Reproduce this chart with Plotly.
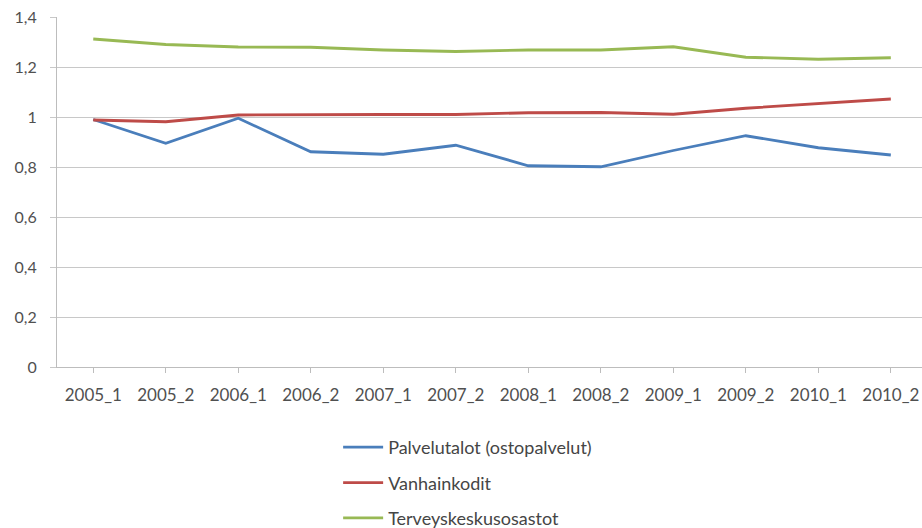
import plotly.graph_objects as go

# Half-year periods on the category axis
periods = ["2005_1", "2005_2", "2006_1", "2006_2", "2007_1", "2007_2",
           "2008_1", "2008_2", "2009_1", "2009_2", "2010_1", "2010_2"]

palvelutalot = [0.99, 0.895, 0.995, 0.861, 0.851, 0.887,
                0.805, 0.801, 0.866, 0.925, 0.877, 0.848]
vanhainkodit = [0.988, 0.981, 1.008, 1.010, 1.010, 1.010,
                1.017, 1.018, 1.011, 1.035, 1.054, 1.072]
terveyskeskus = [1.312, 1.290, 1.280, 1.279, 1.268, 1.262,
                 1.268, 1.268, 1.281, 1.239, 1.231, 1.237]

series_names = ["Palvelutalot (ostopalvelut)", "Vanhainkodit", "Terveyskeskusosastot"]
series_values = [palvelutalot, vanhainkodit, terveyskeskus]
series_colors = ["#4a7ebb", "#be4b48", "#98b954"]

fig = go.Figure()
for i, (name, vals, col) in enumerate(zip(series_names, series_values, series_colors)):
    fig.add_trace(go.Scatter(
        x=list(range(len(periods))), y=vals, name=name, mode="lines",
        line=dict(color=col, width=2.8), legendgroup=f"g{i}",
    ))

family = "Lato, Noto Sans, sans-serif"

fig.update_layout(
    width=922, height=528,
    margin=dict(l=57, r=0, t=17, b=161, autoexpand=False),
    paper_bgcolor="white", plot_bgcolor="white",
    separators=", ",
    font=dict(family=family, size=15, color="#505050"),
    showlegend=True,
    legend=dict(
        x=0.325, y=-0.177, xanchor="left", yanchor="top",
        traceorder="grouped", tracegroupgap=9,
        font=dict(family=family, size=18, color="#454545"),
        bgcolor="rgba(0,0,0,0)", itemwidth=40,
    ),
    xaxis=dict(
        range=[-0.5, 11.43],
        tickmode="array", tickvals=list(range(len(periods))), ticktext=periods,
        tickson="boundaries",
        showgrid=False, zeroline=False,
        showline=True, linecolor="#bdbdbd", linewidth=1,
        ticks="outside", ticklen=5, tickcolor="#bdbdbd",
        ticklabelstandoff=8,
        tickfont=dict(family=family, size=17, color="#505050"),
    ),
    yaxis=dict(
        range=[0, 1.4], dtick=0.2, tick0=0,
        showgrid=True, gridcolor="#c8c8c8", gridwidth=1,
        zeroline=False,
        showline=True, linecolor="#bdbdbd", linewidth=1,
        ticks="outside", ticklen=6, tickcolor="#c8c8c8",
        ticklabelstandoff=10,
        tickfont=dict(family=family, size=16, color="#505050"),
    ),
)

fig.write_html("out.html")
